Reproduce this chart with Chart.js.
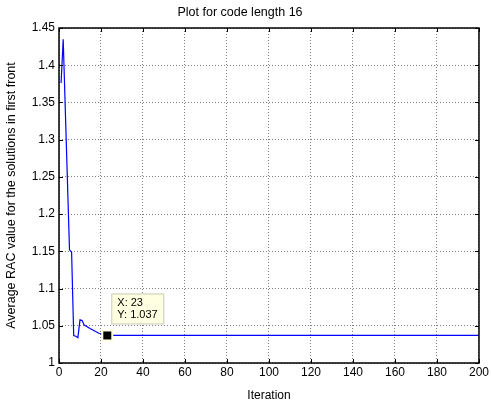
<!DOCTYPE html>
<html>
<head>
<meta charset="utf-8">
<script src="https://cdn.jsdelivr.net/npm/chart.js@4"></script>
<style>
html,body{margin:0;padding:0;background:#fff;}
#wrap{width:491px;height:403px;}
</style>
</head>
<body>
<div id="wrap"><canvas id="racChart" width="491" height="403"></canvas></div>
<script>
// values
const iterations = [1, 2, 5, 6, 7, 8, 9, 10, 11, 12, 15, 19, 23, 200];
const racValues = [1.376, 1.435, 1.152, 1.149, 1.037, 1.036, 1.034, 1.058, 1.057, 1.051, 1.046, 1.040, 1.037, 1.037];
const xTicks = [0, 20, 40, 60, 80, 100, 120, 140, 160, 180, 200];
const yTicks = [1, 1.05, 1.1, 1.15, 1.2, 1.25, 1.3, 1.35, 1.4, 1.45];
const tipX = 23;
const tipY = 1.037;

let points = iterations.map((it, i) => ({ x: it, y: racValues[i] }));

// box, inward ticks and the data tip, matlab style
const matlabBits = {
id: "matlabBits",
afterDraw(chart){
const ctx = chart.ctx;
const a = chart.chartArea;
const xs = chart.scales.x;
const ys = chart.scales.y;
ctx.save();
ctx.strokeStyle = "#000";
ctx.lineWidth = 1;
ctx.setLineDash([]);
ctx.beginPath();
xTicks.forEach(t=>{
let px = Math.round(xs.getPixelForValue(t)) + 0.5;
ctx.moveTo(px, a.bottom); ctx.lineTo(px, a.bottom - 4);
ctx.moveTo(px, a.top); ctx.lineTo(px, a.top + 4);
});
yTicks.forEach(t=>{
let py = Math.round(ys.getPixelForValue(t)) + 0.5;
ctx.moveTo(a.left, py); ctx.lineTo(a.left + 4, py);
ctx.moveTo(a.right, py); ctx.lineTo(a.right - 4, py);
});
ctx.stroke();
ctx.lineWidth = 1.5;
ctx.strokeRect(a.left, a.top, a.right - a.left, a.bottom - a.top);

// data tip
let mx = xs.getPixelForValue(tipX);
let my = ys.getPixelForValue(tipY);
ctx.fillStyle = "#ffffe1";
ctx.fillRect(mx - 6, my - 6, 12, 12);
ctx.fillStyle = "#000";
ctx.fillRect(mx - 4, my - 4, 8, 8);
let bx = mx + 4, by = my - 42, bw = 52, bh = 30;
ctx.fillStyle = "#ffffe1";
ctx.fillRect(bx, by, bw, bh);
ctx.strokeStyle = "#c8c8b4";
ctx.lineWidth = 1;
ctx.strokeRect(bx + 0.5, by + 0.5, bw, bh);
ctx.fillStyle = "#000";
ctx.font = "11px 'Liberation Sans', Arial, sans-serif";
ctx.textBaseline = "middle";
ctx.fillText("X: " + tipX, bx + 6, by + 10);
ctx.fillText("Y: " + tipY, bx + 6, by + 22);
ctx.restore();
}
};

Chart.defaults.font.family = "'Liberation Sans', Arial, sans-serif";
Chart.defaults.font.size = 12;
Chart.defaults.color = "#000";

new Chart(document.getElementById("racChart"), {
type: "line",
data: {
datasets: [{
data: points,
borderColor: "#0000ff",
borderWidth: 1.2,
pointRadius: 0,
tension: 0,
fill: false
}]
},
options: {
responsive: false,
animation: false,
layout: { padding: { left: 0, right: 11, top: 0, bottom: 0 } },
plugins: {
legend: { display: false },
tooltip: { enabled: false },
title: {
display: true,
text: "Plot for code length 16",
color: "#000",
font: { size: 12.5, weight: "normal" },
padding: { top: 5, bottom: 8 }
}
},
scales: {
x: {
type: "linear",
min: 0,
max: 200,
afterFit: s => { s.height = 40; },
afterBuildTicks: s => { s.ticks = xTicks.map(v => ({ value: v })); },
ticks: { maxRotation: 0, padding: 2 },
grid: { color: "#808080", tickLength: 0, drawTicks: false },
border: { display: false, dash: [1, 2] },
title: { display: true, text: "Iteration", color: "#000", padding: { top: 0, bottom: 0 } }
},
y: {
type: "linear",
min: 1,
max: 1.45,
afterFit: s => { s.width = 59; },
afterBuildTicks: s => { s.ticks = yTicks.map(v => ({ value: v })); },
ticks: { padding: 4, callback: v => String(+v.toFixed(2)) },
grid: { color: "#808080", drawTicks: false },
border: { display: false, dash: [1, 2] },
title: { display: true, text: "Average RAC value for the solutions in first front", color: "#000", font: { size: 12.5 }, padding: { top: 4, bottom: 1 } }
}
}
},
plugins: [matlabBits]
});
</script>
</body>
</html>
